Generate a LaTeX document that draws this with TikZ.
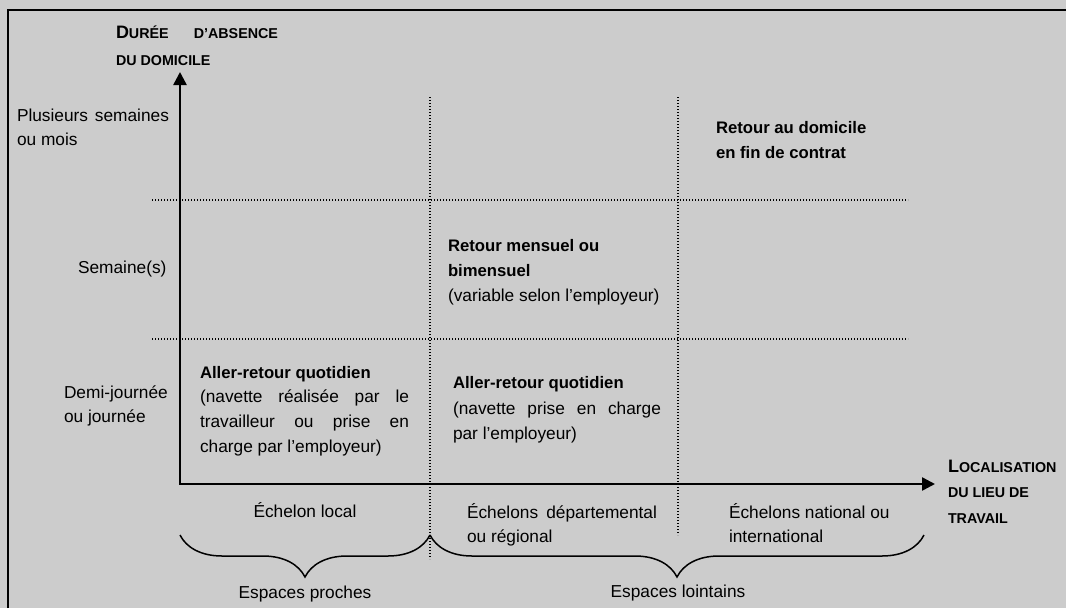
\documentclass[tikz,border=0pt]{standalone}
\usepackage{fontspec}
\setmainfont{Liberation Sans}
\usetikzlibrary{arrows.meta,decorations.pathreplacing}
\definecolor{bggray}{HTML}{CCCCCC}
\newcommand\BigCap[1]{{\fontsize{18}{20}\selectfont #1}}
\begin{document}
\begin{tikzpicture}[x=1pt,y=-1pt,
  lab/.style={inner sep=0pt, outer sep=0pt, font=\fontsize{17.3}{20}\selectfont, anchor=base west},
  labc/.style={lab, anchor=base},
  labb/.style={lab, font=\fontsize{16.7}{20}\selectfont\bfseries},
  head/.style={lab, font=\fontsize{14.3}{17}\selectfont\bfseries},
  axisline/.style={line width=2.5pt, {Triangle[length=13pt,width=13pt]}-{Triangle[length=13pt,width=13pt]}},
  gridline/.style={line width=1.1pt, dash pattern=on 1.1pt off 1.9pt},
  bracedeco/.style={line width=1.5pt, decorate, decoration={brace, mirror, amplitude=42pt}},
  frameline/.style={line width=2pt}
]
\useasboundingbox (0,0) rectangle (1066,608);
\fill[bggray] (0,0) rectangle (1066,608);
\draw[frameline] (8,608) -- (8,10) -- (1066,10);

% grid
\draw[gridline] (152,200) -- (908,200);
\draw[gridline] (152,339) -- (908,339);
\draw[gridline] (430,97) -- (430,559);
\draw[gridline] (678,97) -- (678,535);

% axes
\coordinate (O) at (180,484);
\coordinate (ytip) at (180,72);
\coordinate (xtip) at (935,484);
\draw[axisline] (ytip) -- (O) -- (xtip);

% braces
\coordinate (b1a) at (180,535);
\coordinate (b1b) at (430,535);
\coordinate (b2a) at (430,535);
\coordinate (b2b) at (924,535);
\draw[bracedeco] (b1a) -- (b1b);
\draw[bracedeco] (b2a) -- (b2b);

% headings
\node[head] (yt1) at (116,38) {\makebox[162pt][s]{\BigCap{D}URÉE D’ABSENCE}};
\node[head] (yt2) at (116,65) {DU DOMICILE};
\node[head] (xt1) at (948,472) {\BigCap{L}OCALISATION};
\node[head] (xt2) at (948,497) {DU LIEU DE};
\node[head] (xt3) at (948,523) {TRAVAIL};

% y labels
\node[lab] (y3a) at (17,121) {\makebox[152pt][s]{Plusieurs semaines}};
\node[lab] (y3b) at (17,145) {ou mois};
\node[lab] (y2) at (78,273) {Semaine(s)};
\node[lab] (y1a) at (64,398) {Demi-journée};
\node[lab] (y1b) at (64,422) {ou journée};

% cells
\node[labb] (c1a) at (200,378) {Aller-retour quotidien};
\node[lab] (c1b) at (200,402) {\makebox[209pt][s]{(navette réalisée par le}};
\node[lab] (c1c) at (200,427) {\makebox[209pt][s]{travailleur ou prise en}};
\node[lab] (c1d) at (200,452) {charge par l’employeur)};

\node[labb] (c2a) at (448,251) {Retour mensuel ou};
\node[labb] (c2b) at (448,276) {bimensuel};
\node[lab] (c2c) at (448,301) {(variable selon l’employeur)};

\node[labb] (c3a) at (453,388) {Aller-retour quotidien};
\node[lab] (c3b) at (453,414) {\makebox[208pt][s]{(navette prise en charge}};
\node[lab] (c3c) at (453,439) {par l’employeur)};

\node[labb] (c4a) at (716,133) {Retour au domicile};
\node[labb] (c4b) at (716,158) {en fin de contrat};

% x labels
\node[labc] (x1) at (305,517) {Échelon local};
\node[lab] (x2a) at (467,518) {\makebox[190pt][s]{Échelons départemental}};
\node[lab] (x2b) at (467,542) {ou régional};
\node[lab] (x3a) at (729,518) {Échelons national ou};
\node[lab] (x3b) at (729,542) {international};

\node[labc] (s1) at (305,598) {Espaces proches};
\node[labc] (s2) at (678,597) {Espaces lointains};
\end{tikzpicture}
\end{document}
